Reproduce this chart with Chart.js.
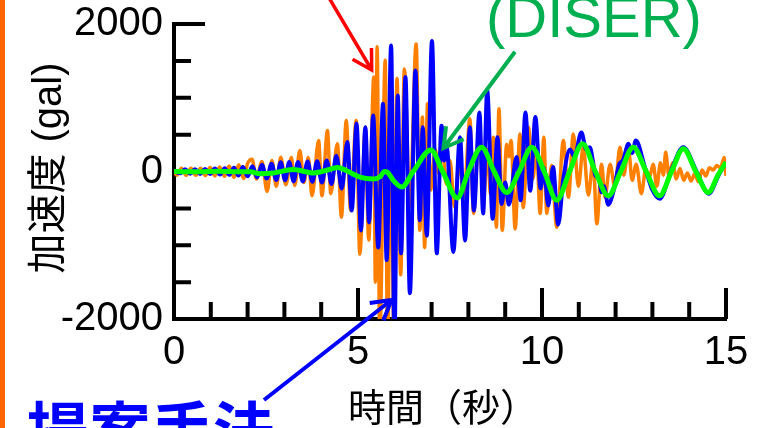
<!DOCTYPE html>
<html>
<head>
<meta charset="utf-8">
<script src="https://cdn.jsdelivr.net/npm/chart.js@4.4.1/dist/chart.umd.min.js"></script>
<style>
  html, body { margin: 0; padding: 0; background: #fff; overflow: hidden; }
  #wrap { position: relative; width: 775px; height: 428px; }
</style>
</head>
<body>
<div id="wrap"><canvas id="chart"></canvas></div>
<script>
// tick labels
const xLabels = [0, 5, 10, 15];
const yLabels = [-2000, 0, 2000];

// DISER (green)
const greenTime = [0, 0.6, 1.2, 1.8, 2.07, 2.34, 2.7, 3.24, 3.79, 4.1, 4.45, 4.69, 5.05, 5.42, 5.6, 5.72, 5.8, 5.96, 6.19, 6.5, 6.98, 7.3, 7.7, 8.0, 8.36, 8.7, 9.04, 9.38, 9.72, 10.06, 10.4, 10.75, 11.1, 11.45, 11.8, 12.14, 12.48, 12.83, 13.19, 13.52, 13.84, 14.18, 14.52, 14.78, 15.0];
const greenAccel = [0, -5, 5, -5, -5, -30, -20, 27, -20, 10, 55, 10, -75, -100, -70, 0, -10, -120, -210, 0, 290, 0, -360, 0, 330, 0, -285, 0, 330, 0, -390, 0, 375, 0, -330, 0, 330, 0, -330, 0, 310, 0, -285, -50, 125];

// proposed method (blue)
const blueTime = [0, 0.17, 0.30, 0.44, 0.57, 0.71, 0.84, 0.98, 1.11, 1.25, 1.38, 1.50, 1.63, 1.75, 1.87, 2.00, 2.13, 2.26, 2.39, 2.52, 2.65, 2.78, 2.90, 3.02, 3.13, 3.25, 3.37, 3.50, 3.63, 3.76, 3.89, 4.02, 4.15, 4.28, 4.41, 4.56, 4.71, 4.83, 4.96, 5.08, 5.20, 5.30, 5.41, 5.55, 5.68, 5.78, 5.90, 5.99, 6.08, 6.17, 6.29, 6.41, 6.56, 6.68, 6.76, 6.87, 7.01, 7.14, 7.27, 7.34, 7.41, 7.59, 7.77, 7.91, 8.04, 8.15, 8.30, 8.40, 8.51, 8.66, 8.79, 8.90, 9.00, 9.10, 9.31, 9.42, 9.55, 9.68, 9.82, 9.96, 10.05, 10.17, 10.30, 10.44, 10.58, 10.76, 10.88, 11.07, 11.20, 11.30, 11.45, 11.55, 11.62, 11.68, 11.80, 11.95, 12.10, 12.20, 12.35, 12.45, 12.55, 12.80, 13.00, 13.20, 13.50, 13.84, 14.20, 14.53, 14.80, 15.00];
const blueAccel = [0, -25, 30, -30, 30, -35, 35, -35, 40, -40, 45, -45, 50, -55, 60, -65, 70, -80, 90, -95, 105, -115, 125, -120, 130, -135, 130, -135, 135, -140, 140, -150, 150, -170, 215, -230, 400, -530, 650, -800, 600, -690, 760, -1030, 920, -1200, 1710, -2300, 1030, -1110, 1280, -1650, 1370, -660, 600, -870, 1770, -1110, 620, 150, 330, -1090, 465, -935, 600, -530, 800, -570, 1100, -640, 465, -440, -150, -450, 195, -390, 800, -260, 740, -230, 50, -460, 60, -720, -100, 300, 200, 530, 300, 330, -50, -100, -280, -200, -450, -250, 100, 150, 375, 250, 420, 50, -250, -370, 0, 330, 0, -300, -50, 125];

// observed record (orange)
const orangeTime = [0, 0.08, 0.20, 0.33, 0.46, 0.59, 0.72, 0.85, 0.98, 1.11, 1.24, 1.37, 1.50, 1.63, 1.76, 1.89, 2.00, 2.12, 2.24, 2.39, 2.53, 2.66, 2.78, 2.90, 3.04, 3.19, 3.28, 3.42, 3.53, 3.65, 3.75, 3.93, 4.02, 4.17, 4.26, 4.44, 4.55, 4.68, 4.80, 4.95, 5.05, 5.20, 5.29, 5.43, 5.47, 5.52, 5.59, 5.74, 5.80, 5.90, 5.97, 6.06, 6.16, 6.26, 6.41, 6.58, 6.68, 6.75, 6.81, 6.89, 6.98, 7.10, 7.20, 7.28, 7.40, 7.50, 7.62, 7.75, 7.88, 8.04, 8.14, 8.30, 8.40, 8.52, 8.60, 8.68, 8.76, 8.83, 8.92, 9.04, 9.10, 9.16, 9.27, 9.40, 9.49, 9.63, 9.75, 9.85, 9.95, 10.05, 10.13, 10.26, 10.40, 10.58, 10.72, 10.85, 10.99, 11.12, 11.26, 11.39, 11.49, 11.62, 11.71, 11.85, 11.98, 12.12, 12.22, 12.35, 12.45, 12.56, 12.70, 12.82, 12.92, 13.02, 13.12, 13.22, 13.30, 13.36, 13.45, 13.55, 13.65, 13.75, 13.85, 13.95, 14.05, 14.15, 14.25, 14.35, 14.45, 14.55, 14.65, 14.75, 14.85, 14.95, 15.0];
const orangeAccel = [0, -50, 45, -50, 45, -50, 45, -55, 55, -60, 60, -65, 75, -80, 90, -95, 110, 167, -100, 135, -270, 150, -200, 194, -180, 190, -190, 285, -150, 190, -330, 420, -330, 555, -300, 375, -620, 690, -530, 690, -1120, 600, -930, 1280, -1500, 1690, -2300, 1510, -2300, 700, -2100, 1260, -1400, 1390, -480, 1730, -800, 740, -1030, 920, -250, 300, -30, 380, -170, 150, -480, 150, -350, 715, -570, 690, -480, 300, -300, 465, -755, 850, -800, 370, 200, 420, -780, 510, -490, 600, -100, 300, -570, 465, -570, 80, -755, 420, -350, 510, -200, 330, -320, 150, -710, 100, -350, 100, -210, 330, -50, 310, -120, 100, -300, 30, -80, 100, -200, 120, -50, 260, -60, 120, -100, 40, -120, -20, -130, -30, -140, 20, -60, 50, 20, 80, 50, 190, -60];

const toPoints = (ts, vs) => ts.map((t, i) => ({ x: t, y: vs[i] }));

function arrow(ctx, x1, y1, x2, y2, color, width) {
  const dx = x1 - x2, dy = y1 - y2;
  const len = Math.hypot(dx, dy);
  const ux = dx / len, uy = dy / len;
  const head = 22, c = Math.cos(Math.PI / 6), s = Math.sin(Math.PI / 6);
  ctx.strokeStyle = color;
  ctx.lineWidth = width;
  ctx.lineCap = "butt";
  ctx.beginPath();
  ctx.moveTo(x1, y1);
  ctx.lineTo(x2, y2);
  ctx.moveTo(x2 + head * (ux * c - uy * s), y2 + head * (ux * s + uy * c));
  ctx.lineTo(x2, y2);
  ctx.lineTo(x2 + head * (ux * c + uy * s), y2 + head * (-ux * s + uy * c));
  ctx.stroke();
}

// inward tick marks, long at the labelled values
const axisMarks = {
  id: "axisMarks",
  beforeDatasetsDraw(chart) {
    const { ctx, chartArea: a, scales: { x, y } } = chart;
    ctx.save();
    ctx.strokeStyle = "#000";
    ctx.lineWidth = 4;
    ctx.beginPath();
    y.ticks.forEach((t) => {
      const py = y.getPixelForValue(t.value);
      const len = yLabels.includes(t.value) ? 31 : 17;
      ctx.moveTo(a.left, py);
      ctx.lineTo(a.left + len, py);
    });
    x.ticks.forEach((t) => {
      if (t.value === 0) return;
      const px = x.getPixelForValue(t.value);
      const len = xLabels.includes(t.value) ? 31 : 17;
      ctx.moveTo(px, a.bottom);
      ctx.lineTo(px, a.bottom - len);
    });
    ctx.stroke();
    ctx.restore();
  }
};

// titles and slide annotations around the plot
const slideText = {
  id: "slideText",
  afterDraw(chart) {
    const { ctx } = chart;
    ctx.save();
    ctx.fillStyle = "#ff6600";
    ctx.fillRect(0, 0, 5, 428);

    ctx.fillStyle = "#000";
    ctx.font = "40px 'Liberation Sans', 'Noto Sans CJK JP'";
    ctx.textAlign = "center";
    ctx.textBaseline = "alphabetic";
    ctx.save();
    ctx.translate(61, 168);
    ctx.rotate(-Math.PI / 2);
    ctx.fillText("加速度 (gal)", 0, 0);
    ctx.restore();

    ctx.font = "38px 'Noto Sans CJK JP'";
    ctx.textAlign = "left";
    ctx.fillText("時間（秒）", 348, 421);

    ctx.fillStyle = "#00b050";
    ctx.font = "58px 'Liberation Sans'";
    ctx.fillText("(DISER)", 486, 37);

    ctx.fillStyle = "#0000ff";
    ctx.font = "bold 62px 'Noto Sans CJK JP'";
    ctx.fillText("提案手法", 27, 454);

    arrow(ctx, 322, -14, 371.7, 70, "#ff0000", 3.5);
    arrow(ctx, 515, 51.7, 443.5, 148, "#00b050", 4);
    arrow(ctx, 264, 400, 391.5, 300, "#0000ff", 4);
    ctx.restore();
  }
};

const tickFont = { family: "'Liberation Sans', Arial, sans-serif", size: 40 };

new Chart(document.getElementById("chart"), {
  type: "line",
  data: {
    datasets: [
      {
        label: "DISER",
        data: toPoints(greenTime, greenAccel),
        borderColor: "#00ff00",
        borderWidth: 5,
        pointRadius: 0,
        cubicInterpolationMode: "monotone"
      },
      {
        label: "提案手法",
        data: toPoints(blueTime, blueAccel),
        borderColor: "#0000ff",
        borderWidth: 4,
        pointRadius: 0,
        cubicInterpolationMode: "monotone"
      },
      {
        label: "観測記録",
        data: toPoints(orangeTime, orangeAccel),
        borderColor: "#ff8000",
        borderWidth: 3.5,
        pointRadius: 0,
        cubicInterpolationMode: "monotone"
      }
    ]
  },
  options: {
    responsive: true,
    maintainAspectRatio: false,
    animation: false,
    devicePixelRatio: 1,
    layout: { padding: { top: 24, right: 49, left: 0, bottom: 0 } },
    plugins: {
      legend: { display: false },
      tooltip: { enabled: false }
    },
    scales: {
      x: {
        type: "linear",
        min: 0,
        max: 15,
        grid: { display: false, drawTicks: false },
        border: { display: true, color: "#000", width: 4 },
        ticks: {
          stepSize: 1,
          autoSkip: false,
          maxRotation: 0,
          padding: 10,
          color: "#000",
          font: tickFont,
          callback: (v) => (xLabels.includes(v) ? String(v) : "")
        },
        afterFit: (s) => {
          s.height = 109;
          s.paddingLeft = 0;
          s.paddingRight = 0;
        }
      },
      y: {
        min: -2000,
        max: 2000,
        grid: { display: false, drawTicks: false },
        border: { display: true, color: "#000", width: 4 },
        ticks: {
          stepSize: 500,
          autoSkip: false,
          padding: 11,
          color: "#000",
          font: tickFont,
          callback: (v) => (yLabels.includes(v) ? String(v) : "")
        },
        afterFit: (s) => {
          s.width = 174;
          s.paddingTop = 0;
          s.paddingBottom = 0;
        }
      }
    }
  },
  plugins: [axisMarks, slideText]
});
</script>
</body>
</html>
